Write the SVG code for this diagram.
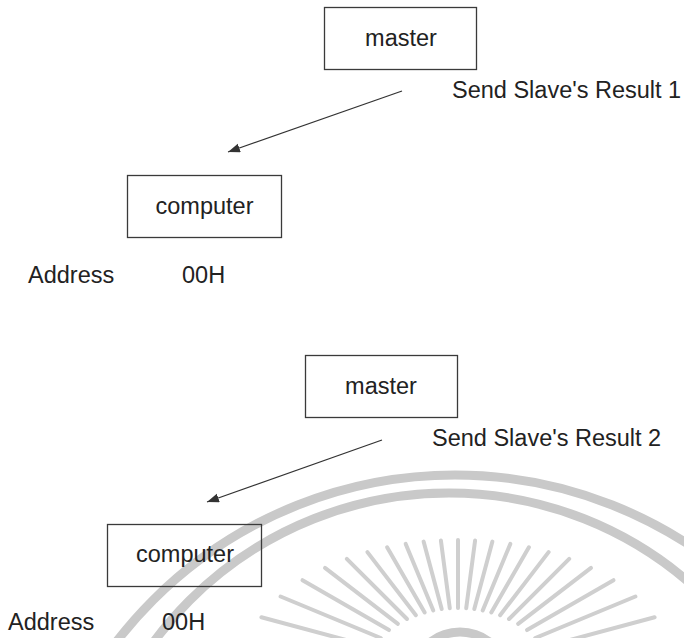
<svg xmlns="http://www.w3.org/2000/svg" width="684" height="638" viewBox="0 0 684 638">
<defs>
<style>
.box{fill:none;stroke:#3a3a3a;stroke-width:1.3}
.t{font-family:"Liberation Sans",Arial,sans-serif;font-size:23.5px;fill:#222}
.c{text-anchor:middle}
.edge{fill:none;stroke:#333;stroke-width:1.3;marker-end:url(#ah)}
.wm{fill:none;stroke:#c9c9c9;stroke-width:9}
.ray{stroke:#cfcfcf;stroke-width:4;stroke-linecap:round}
</style>
<marker id="ah" markerUnits="userSpaceOnUse" markerWidth="14" markerHeight="10" refX="12" refY="4.5" orient="auto">
<path d="M0,0 L12,4.5 L0,9 z" fill="#333"/>
</marker>
</defs>
<rect width="684" height="638" fill="#fff"/>
<g id="watermark">
<circle class="wm" cx="455" cy="902" r="427"/>
<circle class="wm" cx="449" cy="860" r="367"/>
<circle class="wm" cx="460" cy="680" r="48" stroke-width="8"/>
<g class="ray">
<line x1="374.1" y1="647.5" x2="261.4" y2="617.3"/>
<line x1="380.8" y1="638" x2="280.6" y2="596.5"/>
<line x1="389" y1="630.1" x2="302.5" y2="580.2"/>
<line x1="397.9" y1="623.8" x2="325" y2="567.9"/>
<line x1="407" y1="619" x2="346.8" y2="558.8"/>
<line x1="415.9" y1="615.2" x2="367.4" y2="552.1"/>
<line x1="424.7" y1="612.4" x2="387.1" y2="547.3"/>
<line x1="433.3" y1="610.4" x2="405.7" y2="543.9"/>
<line x1="441.7" y1="609" x2="423.6" y2="541.6"/>
<line x1="449.8" y1="608.3" x2="440.9" y2="540.5"/>
<line x1="458" y1="608" x2="458" y2="540"/>
<line x1="466.2" y1="608.3" x2="475.1" y2="540.5"/>
<line x1="474.3" y1="609" x2="492.4" y2="541.6"/>
<line x1="482.7" y1="610.4" x2="510.3" y2="543.9"/>
<line x1="491.3" y1="612.4" x2="528.9" y2="547.3"/>
<line x1="500.1" y1="615.2" x2="548.6" y2="552.1"/>
<line x1="509" y1="619" x2="569.2" y2="558.8"/>
<line x1="518.1" y1="623.8" x2="591" y2="567.9"/>
<line x1="527" y1="630.1" x2="613.5" y2="580.2"/>
<line x1="535.2" y1="638" x2="635.4" y2="596.5"/>
<line x1="541.9" y1="647.5" x2="654.6" y2="617.3"/>
</g>
</g>
<g id="connectors">
<line class="edge" x1="402" y1="91" x2="228" y2="152"/>
<line class="edge" x1="382" y1="440" x2="207" y2="502"/>
</g>
<g id="master1">
<rect class="box" x="324.5" y="7.5" width="152" height="62"/>
<text class="t c" x="401" y="46">master</text>
</g>
<g id="label1">
<text class="t" x="452" y="98">Send Slave's Result 1</text>
</g>
<g id="computer1">
<rect class="box" x="127.5" y="175.5" width="154" height="62"/>
<text class="t c" x="204.5" y="214">computer</text>
</g>
<g id="address1">
<text class="t" x="28" y="283">Address</text>
<text class="t" x="182" y="283">00H</text>
</g>
<g id="master2">
<rect class="box" x="305.5" y="355.5" width="152" height="62"/>
<text class="t c" x="381" y="394">master</text>
</g>
<g id="label2">
<text class="t" x="432" y="446">Send Slave's Result 2</text>
</g>
<g id="computer2">
<rect class="box" x="107.5" y="524.5" width="154" height="62"/>
<text class="t c" x="185" y="562">computer</text>
</g>
<g id="address2">
<text class="t" x="8" y="630">Address</text>
<text class="t" x="162" y="630">00H</text>
</g>
</svg>
